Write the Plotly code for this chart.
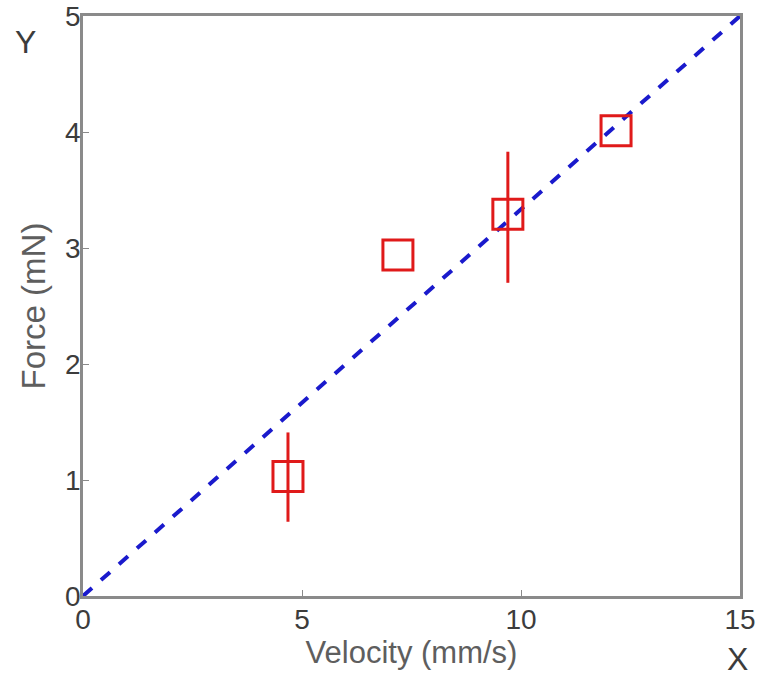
import plotly.graph_objects as go

vel = [4.68, 7.19, 9.70, 12.17]
force = [1.03, 2.94, 3.29, 4.01]
err_plus = [0.38, 0.0, 0.54, 0.0]
err_minus = [0.39, 0.0, 0.59, 0.0]
fit_x = [0, 15]
fit_y = [0, 5]
x_ticks = [0, 5, 10, 15]
y_ticks = [0, 1, 2, 3, 4, 5]

FONT = "Liberation Sans, Arial"
fig = go.Figure()
fig.add_trace(go.Scatter(x=fit_x, y=fit_y, mode="lines",
                         line=dict(color="#1a1acc", width=4, dash="dash"),
                         showlegend=False))
fig.add_trace(go.Scatter(x=vel, y=force, mode="markers",
                         marker=dict(symbol="square-open", size=30, color="#e01a1a",
                                     line=dict(width=3, color="#e01a1a")),
                         error_y=dict(type="data", array=err_plus, arrayminus=err_minus,
                                      color="#e01a1a", thickness=3, width=0, symmetric=False),
                         showlegend=False))

axis_common = dict(showline=True, linecolor="#8a8a8a", linewidth=2.5, mirror=True,
                   ticks="inside", ticklen=6, tickcolor="#8a8a8a", showgrid=False,
                   zeroline=False, automargin=False,
                   tickfont=dict(family=FONT, size=28, color="#3c3c3c"))

L, R, T, B = 83, 22, 16, 83
fig.update_layout(
    width=762, height=679,
    margin=dict(l=L, r=R, t=T, b=B),
    plot_bgcolor="white", paper_bgcolor="white",
    xaxis=dict(range=[0, 15], tickvals=x_ticks, **axis_common, ticklabelstandoff=-3,
               title=dict(text="Velocity (mm/s)", standoff=0,
                          font=dict(family=FONT, size=31, color="#5e5e5e"))),
    yaxis=dict(range=[0, 5], tickvals=y_ticks, **axis_common, ticklabelstandoff=-6,
               title=dict(text="Force (mN)", standoff=10,
                          font=dict(family=FONT, size=33, color="#5e5e5e"))),
)
pw, ph = 762 - L - R, 679 - T - B
fig.layout.annotations = [
    dict(text="Y", x=(25 - L) / pw, y=(679 - B - 42) / ph, xref="paper", yref="paper",
         xanchor="center", yanchor="middle",
         showarrow=False, font=dict(family=FONT, size=32, color="#3c3c3c")),
    dict(text="X", x=(737 - L) / pw, y=(679 - B - 659) / ph, xref="paper", yref="paper",
         xanchor="center", yanchor="middle",
         showarrow=False, font=dict(family=FONT, size=32, color="#3c3c3c")),
]

fig.write_html("out.html")
